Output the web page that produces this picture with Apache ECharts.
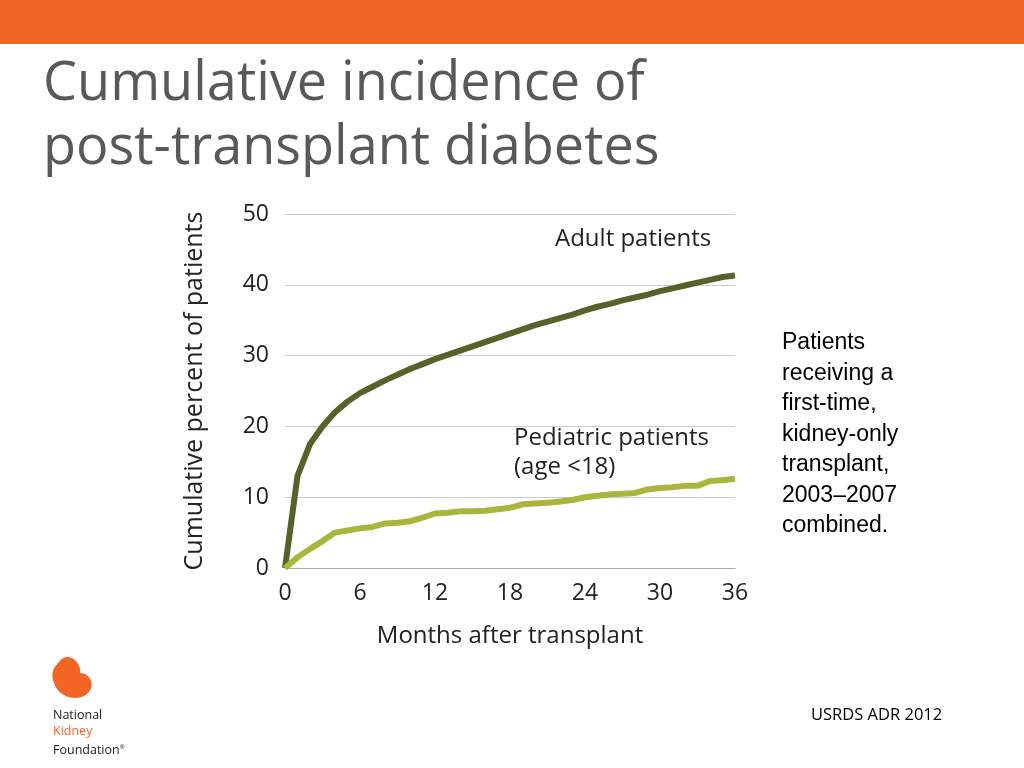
<!DOCTYPE html>
<html><head><meta charset="utf-8">
<script src="https://cdn.jsdelivr.net/npm/echarts@6/dist/echarts.min.js"></script>
<style>body{margin:0;width:1024px;height:768px;background:#fff;overflow:hidden;font-family:"Open Sans",sans-serif;position:relative}</style>
</head><body>
<div style="position:absolute;left:0;top:0;width:1024px;height:44px;background:#f26522"></div>
<div style="position:absolute;left:43px;top:47px;font-size:54px;line-height:64px;color:#595959">Cumulative incidence of<br>post-transplant diabetes</div>
<div id="c" style="position:absolute;left:0;top:0;width:1024px;height:768px"></div>
<div style="position:absolute;left:782px;top:326px;font-family:'Liberation Sans',Arial,sans-serif;font-size:23px;line-height:30.5px;color:#000">Patients<br>receiving a<br>first-time,<br>kidney-only<br>transplant,<br>2003–2007<br>combined.</div>
<div style="position:absolute;left:811px;top:702px;font-size:16.5px;color:#000">USRDS ADR 2012</div>
<svg style="position:absolute;left:50px;top:655px" width="50" height="46"><path d="M8 8 C18 -6 32 8 30 18 C40 18 46 30 38 38 C28 48 8 42 4 28 C1 20 2 14 8 8Z" fill="#f26522"/></svg>
<div style="position:absolute;left:53px;top:707px;font-size:12.5px;line-height:16px;color:#222">National<br><span style="color:#f26522">Kidney</span><br>Foundation<sup style="font-size:6px">®</sup></div>
<script>
var months=[];for(var i=0;i<=36;i++)months.push(i);
var adult=[0,13,17.5,20,22,23.5,24.7,25.6,26.5,27.3,28.1,28.8,29.5,30.1,30.7,31.3,31.9,32.5,33.1,33.7,34.3,34.8,35.3,35.8,36.4,36.9,37.3,37.8,38.2,38.6,39.1,39.5,39.9,40.3,40.7,41.1,41.3];
var pediatric=[0,1.5,2.7,3.8,5,5.3,5.6,5.8,6.3,6.4,6.6,7.1,7.7,7.8,8,8,8.1,8.3,8.5,9,9.1,9.2,9.4,9.6,10,10.2,10.4,10.5,10.6,11.1,11.3,11.4,11.6,11.6,12.3,12.4,12.6];
var ch=echarts.init(document.getElementById('c'));
function pts(a){return a.map(function(v,i){return [months[i],v];});}
ch.setOption({
grid:{left:285,top:214,width:450,height:354},
xAxis:{type:'value',min:0,max:36,interval:6,name:'Months after transplant',nameLocation:'middle',nameGap:56,
nameTextStyle:{fontSize:24,color:'#222',fontFamily:'Open Sans'},
axisLine:{show:true,lineStyle:{color:'#aaa'}},axisTick:{show:false},splitLine:{show:false},
axisLabel:{fontSize:23,color:'#222',margin:14,fontFamily:'Open Sans'}},
yAxis:{type:'value',min:0,max:50,interval:10,name:'Cumulative percent of patients',nameLocation:'middle',nameGap:78,
nameTextStyle:{fontSize:25,color:'#222',fontFamily:'Open Sans'},
axisLine:{show:false},axisTick:{show:false},splitLine:{lineStyle:{color:'#ccc'}},
axisLabel:{fontSize:23,color:'#222',margin:16,align:'right',fontFamily:'Open Sans'}},
series:[
{type:'line',data:pts(adult),symbol:'none',lineStyle:{width:6,color:'#55632a'}},
{type:'line',data:pts(pediatric),symbol:'none',lineStyle:{width:6,color:'#a9b63c'}}
],
graphic:[
{type:'text',left:555,top:227,style:{text:'Adult patients',fontSize:24,fill:'#222',fontFamily:'Open Sans'}},
{type:'text',left:514,top:424,style:{text:'Pediatric patients\n(age <18)',fontSize:24,lineHeight:29,fill:'#222',fontFamily:'Open Sans'}}
]
});
</script></body></html>
